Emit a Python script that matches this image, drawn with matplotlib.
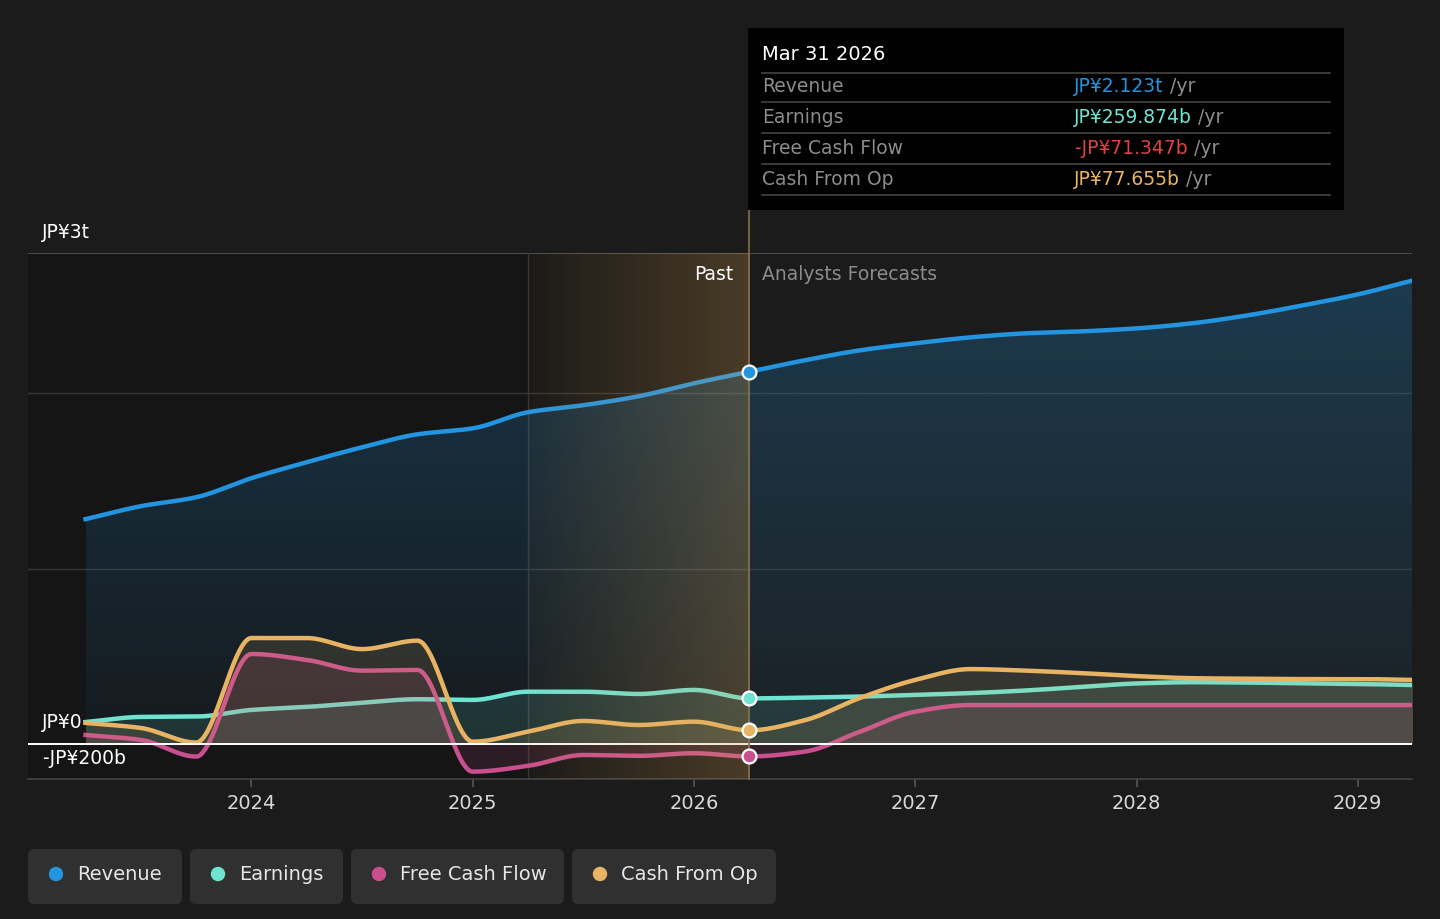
import numpy as np
import matplotlib
matplotlib.use("Agg")
import matplotlib.pyplot as plt
from matplotlib.patches import FancyBboxPatch, Rectangle, Circle

plt.rcParams['font.family'] = ['DejaVu Sans']

# quarterly points, JPY billions
quarters = [2023.25, 2023.5, 2023.75, 2024.0, 2024.25, 2024.5, 2024.75, 2025.0,
            2025.25, 2025.5, 2025.75, 2026.0, 2026.25,
            2026.5, 2026.75, 2027.0, 2027.25, 2027.5, 2027.75, 2028.0,
            2028.25, 2028.5, 2028.75, 2029.0, 2029.25]
revenue = [1282, 1356, 1407, 1516, 1607, 1692, 1766, 1800,
           1892, 1932, 1983, 2057, 2123,
           2188, 2245, 2285, 2319, 2342, 2353, 2370,
           2399, 2444, 2501, 2564, 2644]
earnings = [125, 154, 156, 194, 211, 235, 255, 251,
            298, 298, 285, 308, 259.874,
            264, 270, 280, 290, 305, 325, 345,
            352, 350, 346, 342, 336]
free_cash_flow = [51, 23, -72, 513, 479, 418, 422, -158,
                  -125, -63, -68, -53, -71.347,
                  -44, 70, 184, 222, 222, 222, 222,
                  222, 222, 222, 222, 222]
cash_from_op = [120, 91, 8, 604, 604, 541, 589, 13,
                70, 131, 108, 127, 77.655,
                135, 262, 365, 427, 418, 404, 387,
                375, 372, 370, 370, 365]

series_names = ["Revenue", "Earnings", "Free Cash Flow", "Cash From Op"]
series_colors = ["#2394df", "#6fe3d1", "#c94f8e", "#e8b463"]
tooltip_date = "Mar 31 2026"
tooltip_values = ["JP¥2.123t", "JP¥259.874b", "-JP¥71.347b", "JP¥77.655b"]
tooltip_colors = ["#2394df", "#6fe3d1", "#e0433f", "#e8b463"]
year_ticks = [2024, 2025, 2026, 2027, 2028, 2029]
now_x = 2026.25
past_start = 2025.25


def pchip(x, y, xs):
    # monotone cubic, like d3 curveMonotoneX
    x = np.asarray(x, float)
    y = np.asarray(y, float)
    h = np.diff(x)
    d = np.diff(y) / h
    m = np.zeros_like(y)
    m[0] = d[0]
    m[-1] = d[-1]
    for k in range(1, len(y) - 1):
        if d[k - 1] * d[k] > 0:
            w1 = 2 * h[k] + h[k - 1]
            w2 = h[k] + 2 * h[k - 1]
            m[k] = (w1 + w2) / (w1 / d[k - 1] + w2 / d[k])
    idx = np.clip(np.searchsorted(x, xs) - 1, 0, len(x) - 2)
    t = (xs - x[idx]) / h[idx]
    h00 = 2 * t**3 - 3 * t**2 + 1
    h10 = t**3 - 2 * t**2 + t
    h01 = -2 * t**3 + 3 * t**2
    h11 = t**3 - t**2
    return h00 * y[idx] + h10 * h[idx] * m[idx] + h01 * y[idx + 1] + h11 * h[idx] * m[idx + 1]


bg = "#1b1b1b"
fig = plt.figure(figsize=(14.4, 9.19), dpi=100, facecolor=bg)
ax = fig.add_axes([28 / 1440, 1 - 779 / 919, 1384 / 1440, 526 / 919])
ax.set_facecolor(bg)
xlim = (2022.99, 2029.245)
ax.set_xlim(*xlim)
ax.set_ylim(-200, 2800)

# darker past background
ax.axvspan(xlim[0], now_x, color="#151515", lw=0, zorder=0)
ax.axhline(1000, color="#353535", lw=1, zorder=1)
ax.axhline(2000, color="#353535", lw=1, zorder=1)
ax.axhline(2800, color="#555555", lw=1.2, zorder=1)
ax.axvline(past_start, color="#333333", lw=1, zorder=1)

xs = np.linspace(quarters[0], quarters[-1], 1200)
all_series = [revenue, earnings, free_cash_flow, cash_from_op]
smooth = [pchip(quarters, s, xs) for s in all_series]

# revenue area with vertical gradient
rev_fill = ax.fill_between(xs, 0, smooth[0], color="none", lw=0, zorder=1.5)
grad = np.zeros((256, 1, 4))
grad[:, 0, :3] = matplotlib.colors.to_rgb(series_colors[0])
grad[:, 0, 3] = np.linspace(0.05, 0.26, 256)
im = ax.imshow(grad, extent=[quarters[0], quarters[-1], 0, max(revenue)],
               origin="lower", aspect="auto", zorder=1.5)
im.set_clip_path(rev_fill.get_paths()[0], transform=ax.transData)
ax.plot(xs, smooth[0], color=series_colors[0], lw=3.2, zorder=1.6)

z = 2
for s, c in zip(smooth[1:], series_colors[1:]):
    ax.fill_between(xs, 0, s, color=c, alpha=0.13, lw=0, zorder=z)
    ax.plot(xs, s, color=c, lw=3.2, zorder=z + 0.1)
    z += 0.2

ax.axhline(0, color="white", lw=1.4, zorder=3.5)

# past highlight gradient drawn over the lines
hl = np.zeros((1, 256, 4))
hl[0, :, :3] = (0.85, 0.65, 0.35)
hl[0, :, 3] = np.linspace(0.04, 0.27, 256)
ax.imshow(hl, extent=[past_start, now_x, -200, 2800], aspect="auto", zorder=4)
ax.set_xlim(*xlim)
ax.set_ylim(-200, 2800)
ax.plot([now_x, now_x], [-200, 3046], color="#8a7049", lw=1.2, clip_on=False, zorder=5)

i_now = quarters.index(now_x)
for s, c in zip(all_series, series_colors):
    ax.plot(now_x, s[i_now], "o", ms=10, mfc=c, mec="white", mew=1.6, zorder=6)

for side in ["top", "left", "right"]:
    ax.spines[side].set_visible(False)
ax.spines["bottom"].set_color("#444444")
ax.spines["bottom"].set_linewidth(1.2)
ax.set_yticks([])
ax.set_xticks(year_ticks)
ax.set_xticklabels([str(y) for y in year_ticks])
ax.tick_params(axis="x", colors="#555555", labelcolor="#d9d9d9", labelsize=14,
               length=6, width=1.2, pad=5)

# overlay in pixel coordinates for texts, tooltip and legend
ov = fig.add_axes([0, 0, 1, 1], zorder=10)
ov.set_xlim(0, 1440)
ov.set_ylim(919, 0)
ov.axis("off")

ov.text(42, 232, "JP¥3t", color="white", fontsize=13.5, va="center")
ov.text(42, 722, "JP¥0", color="white", fontsize=13.5, va="center")
ov.text(42, 758, "-JP¥200b", color="white", fontsize=13.5, va="center")
ov.text(733, 274, "Past", color="white", fontsize=13.5, va="center", ha="right")
ov.text(762, 274, "Analysts Forecasts", color="#8c8c8c", fontsize=13.5, va="center")

# tooltip
ov.add_patch(Rectangle((748, 28), 596, 182, color="black", lw=0))
ov.text(762, 55, tooltip_date, color="white", fontsize=14, va="center")
for yl in [73, 102, 133, 164, 195]:
    ov.plot([762, 1330], [yl, yl], color="#444444", lw=1.2)
for k, (name, val, vc) in enumerate(zip(series_names, tooltip_values, tooltip_colors)):
    yrow = 87 + k * 30.7
    ov.text(762, yrow, name, color="#8c8c8c", fontsize=13.5, va="center")
    t = ov.text(1074, yrow, val, color=vc, fontsize=13.5, va="center")
    ov.annotate(" /yr", xy=(1, 0.5), xycoords=t, color="#8c8c8c", fontsize=13.5,
                va="center", ha="left")

# legend buttons
box_x = [28, 190, 351, 572]
box_w = [154, 153, 213, 204]
for bx, bw, name, c in zip(box_x, box_w, series_names, series_colors):
    ov.add_patch(FancyBboxPatch((bx, 849), bw, 55, boxstyle="round,pad=0,rounding_size=6",
                                fc="#303030", ec="none"))
    ov.add_patch(Circle((bx + 28, 874), 6.5, color=c))
    ov.text(bx + 49, 874, name, color="#e6e6e6", fontsize=14, va="center")

fig.savefig("out.png", dpi=100, facecolor=bg)
